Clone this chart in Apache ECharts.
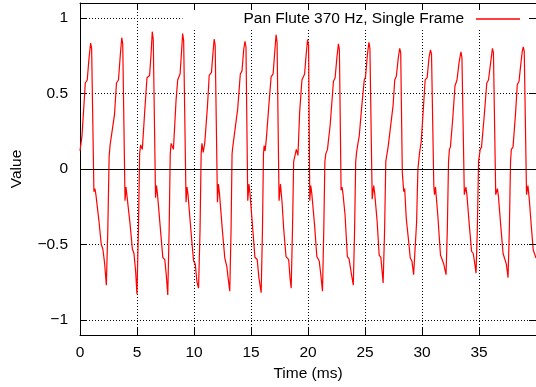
<!DOCTYPE html>
<html><head><meta charset="utf-8">
<script src="https://cdn.jsdelivr.net/npm/echarts@6/dist/echarts.min.js"></script>
<style>html,body{margin:0;padding:0;background:#fff}#c{width:536px;height:387px}</style>
</head><body><div id="c"></div>
<script>
const seriesName = 'Pan Flute 370 Hz, Single Frame';
const xAxisName = 'Time (ms)';
const yAxisName = 'Value';
const xTickStep = 5;
const yTickLabels = [-1, -0.5, 0, 0.5, 1];
const timesMs = [
0.000,0.174,0.410,0.462,0.636,0.785,0.933,1.020,1.221,1.308,1.395,1.656,1.865,2.005,2.153,2.310,2.441,2.554,
2.642,2.790,3.025,3.200,3.374,3.531,3.662,3.749,3.949,4.037,4.124,4.385,4.594,4.734,4.882,4.995,5.126,5.231,
5.318,5.466,5.693,5.876,6.103,6.233,6.338,6.425,6.626,6.713,6.800,7.088,7.262,7.436,7.567,7.698,7.820,7.916,
7.994,8.195,8.430,8.570,8.779,8.893,9.006,9.093,9.302,9.389,9.476,9.764,9.964,10.113,10.261,10.400,10.531,10.627,
10.697,10.810,10.941,11.185,11.333,11.534,11.665,11.769,11.857,12.057,12.144,12.231,12.493,12.702,12.876,12.990,13.138,13.252,13.339,
13.408,13.539,13.836,14.062,14.210,14.359,14.472,14.559,14.716,14.821,14.908,15.126,15.344,15.544,15.692,15.893,16.006,16.093,
16.154,16.241,16.346,16.564,16.764,16.939,17.087,17.200,17.287,17.462,17.584,17.723,17.871,18.072,18.307,18.421,18.525,18.639,18.743,
18.891,18.979,19.118,19.266,19.467,19.702,19.841,19.964,20.051,20.156,20.243,20.330,20.575,20.775,20.984,21.123,21.272,21.385,21.481,
21.559,21.708,21.943,22.231,22.379,22.536,22.667,22.754,22.902,22.989,23.076,23.251,23.451,23.600,23.774,23.975,24.088,24.184,
24.262,24.349,24.497,24.698,24.934,25.047,25.213,25.343,25.431,25.631,25.762,25.849,26.067,26.241,26.389,26.503,26.590,26.721,26.825,
27.026,27.174,27.462,27.610,27.749,27.924,28.046,28.133,28.272,28.394,28.481,28.621,28.830,28.969,29.118,29.266,29.406,29.528,29.641,29.789,
29.929,30.077,30.277,30.452,30.617,30.748,30.835,31.036,31.097,31.184,31.385,31.620,31.760,31.908,32.109,32.222,32.327,
32.405,32.492,32.693,32.893,33.068,33.259,33.416,33.503,33.713,33.852,33.939,34.148,34.349,34.497,34.637,34.741,34.855,34.960,
35.107,35.220,35.456,35.683,35.831,36.031,36.180,36.267,36.467,36.615,36.703,36.903,37.112,37.252,37.400,37.548,37.662,37.766,
37.836,37.984,38.211,38.359,38.508,38.647,38.795,38.882,38.969,39.170,39.292,39.405,39.580,39.754,40.000
];
const values = [
0.12,0.22,0.50,0.57,0.59,0.73,0.835,0.80,-0.15,-0.13,-0.17,-0.34,-0.50,-0.53,-0.62,-0.77,-0.40,0.08,
0.16,0.17,0.36,0.57,0.59,0.75,0.87,0.83,-0.21,-0.12,-0.18,-0.36,-0.53,-0.56,-0.68,-0.83,-0.40,0.10,
0.16,0.13,0.40,0.605,0.62,0.76,0.91,0.86,-0.19,-0.11,-0.17,-0.43,-0.585,-0.60,-0.70,-0.835,-0.40,0.10,
0.17,0.13,0.46,0.59,0.63,0.76,0.897,0.85,-0.22,-0.12,-0.17,-0.44,-0.61,-0.63,-0.75,-0.79,-0.40,0.10,
0.17,0.11,0.17,0.42,0.62,0.64,0.77,0.86,0.82,-0.22,-0.10,-0.16,-0.41,-0.59,-0.645,-0.72,-0.81,-0.40,0.10,
0.15,0.155,0.40,0.63,0.65,0.79,0.846,0.81,-0.21,-0.10,-0.16,-0.37,-0.585,-0.60,-0.72,-0.82,-0.40,0.10,
0.155,0.12,0.20,0.42,0.61,0.63,0.78,0.89,0.84,-0.21,-0.10,-0.22,-0.40,-0.58,-0.60,-0.72,-0.79,-0.40,0.05,
0.10,0.13,0.09,0.375,0.59,0.63,0.76,0.857,0.82,-0.21,-0.11,-0.16,-0.37,-0.58,-0.61,-0.70,-0.81,-0.40,0.05,
0.10,0.13,0.29,0.58,0.605,0.74,0.83,0.79,-0.14,-0.12,-0.17,-0.305,-0.58,-0.595,-0.68,-0.77,-0.40,0.05,
0.11,0.155,0.22,0.40,0.59,0.61,0.76,0.84,0.80,-0.20,-0.11,-0.16,-0.35,-0.57,-0.585,-0.68,-0.755,-0.40,0.05,
0.145,0.15,0.42,0.59,0.615,0.74,0.80,0.77,-0.02,-0.15,-0.13,-0.33,-0.48,-0.59,-0.61,-0.70,-0.71,-0.35,0.00,0.11,
0.18,0.35,0.59,0.605,0.74,0.79,0.76,-0.11,-0.17,-0.12,-0.305,-0.57,-0.56,-0.63,-0.70,-0.40,0.05,
0.13,0.145,0.33,0.55,0.59,0.71,0.776,0.74,-0.17,-0.12,-0.17,-0.37,-0.545,-0.56,-0.63,-0.69,-0.40,0.05,
0.13,0.145,0.35,0.57,0.59,0.71,0.80,0.77,-0.17,-0.13,-0.18,-0.37,-0.56,-0.57,-0.63,-0.72,-0.40,0.05,
0.13,0.145,0.375,0.56,0.58,0.68,0.78,0.81,0.78,-0.17,-0.11,-0.195,-0.37,-0.535,-0.59
];

const FONT = '"Liberation Sans", Arial, Helvetica, sans-serif';
const FS = 15.5;
const n = Math.min(timesMs.length, values.length);
const data = [];
for (let i = 0; i < n; i++) data.push([timesMs[i], values[i]]);

const chart = echarts.init(document.getElementById('c'), null, {renderer: 'canvas'});
const dotted = {color: '#000', width: 1, type: [1, 2]};
const yLabelFmt = v => {
  const hit = yTickLabels.find(t => Math.abs(t - v) < 1e-9);
  if (hit === undefined) return '';
  return String(hit).replace('-', '\u2212');
};
chart.setOption({
  animation: false,
  backgroundColor: '#fff',
  grid: {left: 80, right: -3, top: 3, bottom: 50, containLabel: false},
  legend: {
    data: [{name: seriesName, icon: 'rect'}],
    right: 0, top: 4, align: 'right',
    padding: [7, 16, 1, 61],
    backgroundColor: '#fff',
    itemWidth: 44, itemHeight: 1.5,
    textStyle: {fontSize: FS, color: '#000', fontFamily: FONT, padding: [0, 7, 0, 0]},
    z: 4
  },
  xAxis: [{
    type: 'value', min: 0, max: 40, interval: xTickStep, position: 'bottom', z: 0,
    axisLine: {show: true, onZero: false, lineStyle: {color: '#000', width: 1}},
    axisTick: {show: true, inside: true, length: 7, lineStyle: {color: '#000', width: 1}},
    axisLabel: {color: '#000', fontSize: FS, fontFamily: FONT, margin: 10, showMaxLabel: false},
    splitLine: {show: true, lineStyle: dotted},
    name: xAxisName, nameLocation: 'middle', nameGap: 31,
    nameTextStyle: {color: '#000', fontSize: FS, fontFamily: FONT}
  }, {
    type: 'value', min: 0, max: 40, interval: xTickStep, position: 'top', z: 10,
    axisLine: {show: true, onZero: false, lineStyle: {color: '#000', width: 1}},
    axisTick: {show: true, inside: true, length: 7, lineStyle: {color: '#000', width: 1}},
    axisLabel: {show: false}, splitLine: {show: false}
  }],
  yAxis: [{
    type: 'value', min: -1.1, max: 1.1, splitNumber: 5, position: 'left', z: 0,
    axisLine: {show: true, onZero: false, lineStyle: {color: '#000', width: 1}},
    axisTick: {show: true, inside: true, length: 7, lineStyle: {color: '#000', width: 1}},
    axisLabel: {color: '#000', fontSize: FS, fontFamily: FONT, margin: 12, formatter: yLabelFmt},
    splitLine: {show: true, lineStyle: dotted},
    name: yAxisName, nameLocation: 'middle', nameGap: 55,
    nameTextStyle: {color: '#000', fontSize: FS, fontFamily: FONT}
  }, {
    type: 'value', min: -1.1, max: 1.1, splitNumber: 5, position: 'right', z: 10,
    axisLine: {show: true, onZero: false, lineStyle: {color: '#000', width: 1}},
    axisTick: {show: true, inside: true, length: 7, lineStyle: {color: '#000', width: 1}},
    axisLabel: {show: false}, splitLine: {show: false}
  }],
  series: [{
    name: seriesName, type: 'line', xAxisIndex: 0, yAxisIndex: 0,
    data: data, showSymbol: false, symbol: 'none', smooth: false, clip: true,
    lineStyle: {color: '#ff0000', width: 1.2}, itemStyle: {color: '#ff0000'},
    markLine: {
      silent: true, symbol: ['none', 'none'], label: {show: false},
      lineStyle: {color: '#000', width: 1, type: 'solid'},
      data: [{yAxis: 0}], animation: false
    }
  }]
});
</script></body></html>
